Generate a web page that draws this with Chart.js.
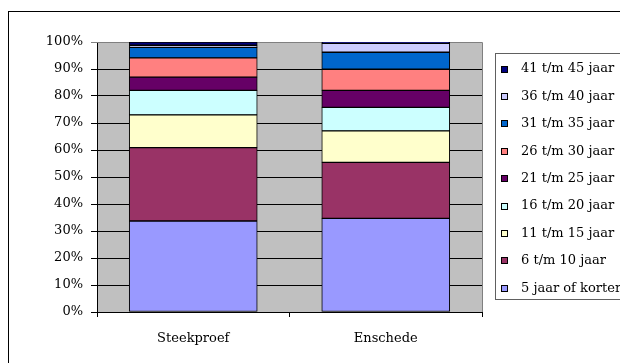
<!DOCTYPE html>
<html>
<head>
<meta charset="utf-8">
<script src="https://cdn.jsdelivr.net/npm/chart.js@4/dist/chart.umd.min.js"></script>
<style>
  html, body { margin: 0; padding: 0; background: #fff; overflow: hidden; }
  #wrap { position: relative; width: 620px; height: 363px; }
</style>
</head>
<body>
<div id="wrap"><canvas id="c" width="620" height="363"></canvas></div>
<script>
// Categories on the x axis
const categories = ['Steekproef', 'Enschede'];

// Duration classes, bottom of the stack first
const seriesLabels = [
  '5 jaar of korter', '6 t/m 10 jaar', '11 t/m 15 jaar', '16 t/m 20 jaar',
  '21 t/m 25 jaar', '26 t/m 30 jaar', '31 t/m 35 jaar', '36 t/m 40 jaar', '41 t/m 45 jaar'
];

// Share per class (percent), same order as seriesLabels
const steekproef = [33.7, 27.2, 12.1, 9.1, 4.9, 7.1, 3.9, 0.8, 1.2];
const enschede   = [34.7, 20.7, 11.7, 8.7, 6.3, 7.8, 6.3, 3.3, 0.5];

const seriesColors = [
  '#9999FF', '#993366', '#FFFFCC', '#CCFFFF', '#660066',
  '#FF8080', '#0066CC', '#CCCCFF', '#000080'
];

const yTicks = [0, 10, 20, 30, 40, 50, 60, 70, 80, 90, 100];

const FONT = { family: "'DejaVu Serif', serif", size: 13 };

const datasets = seriesLabels.map((label, i) => ({
  label,
  data: [steekproef[i], enschede[i]],
  backgroundColor: seriesColors[i],
  borderColor: '#000',
  borderWidth: 1,
  borderSkipped: false,
  barThickness: 128
}));

// Grey plot background plus the grey top/right frame
const plotFrame = {
  id: 'plotFrame',
  beforeDraw(chart) {
    const { ctx, chartArea: a } = chart;
    ctx.save();
    ctx.fillStyle = '#C0C0C0';
    ctx.fillRect(a.left, a.top, a.right - a.left, a.bottom - a.top);
    ctx.restore();
  },
  beforeDatasetsDraw(chart) {
    const { ctx, chartArea: a } = chart;
    ctx.save();
    ctx.strokeStyle = '#808080';
    ctx.lineWidth = 1;
    ctx.beginPath();
    ctx.moveTo(a.left, Math.round(a.top) + 0.5);
    ctx.lineTo(Math.round(a.right) + 0.5, Math.round(a.top) + 0.5);
    ctx.lineTo(Math.round(a.right) + 0.5, a.bottom);
    ctx.stroke();
    ctx.restore();
  },
  afterDraw(chart) {
    const ctx = chart.ctx;
    ctx.save();
    // outer chart frame
    ctx.strokeStyle = '#000';
    ctx.lineWidth = 1;
    ctx.strokeRect(8.5, 11.5, 800, 500);
    ctx.restore();
  }
};

// Boxed legend on the right, top item = top of the stack
const boxLegend = {
  id: 'boxLegend',
  afterDraw(chart) {
    const ctx = chart.ctx;
    const ds = chart.data.datasets.slice().reverse();
    ctx.save();
    ctx.fillStyle = '#fff';
    ctx.fillRect(496, 54, 300, 246);
    ctx.strokeStyle = '#606060';
    ctx.lineWidth = 1;
    ctx.strokeRect(495.5, 53.5, 300, 246);
    ctx.font = `${FONT.size}px ${FONT.family}`;
    ctx.textBaseline = 'middle';
    ctx.textAlign = 'left';
    ds.forEach((d, i) => {
      const cy = 69 + i * 27.4;
      ctx.fillStyle = d.backgroundColor;
      ctx.fillRect(501.5, Math.round(cy - 3.5) + 0.5, 6, 6);
      ctx.strokeStyle = '#000';
      ctx.strokeRect(501.5, Math.round(cy - 3.5) + 0.5, 6, 6);
      ctx.fillStyle = '#000';
      ctx.fillText(d.label, 521, cy);
    });
    ctx.restore();
  }
};

new Chart(document.getElementById('c'), {
  type: 'bar',
  data: { labels: categories, datasets },
  options: {
    responsive: false,
    animation: false,
    layout: { padding: { left: 10, right: 138, top: 42, bottom: 0 } },
    plugins: {
      legend: { display: false },
      tooltip: { enabled: false },
      title: { display: false }
    },
    scales: {
      x: {
        stacked: true,
        afterFit(s) { s.height = 51; },
        grid: {
          offset: true,
          drawOnChartArea: false,
          drawTicks: true,
          tickLength: 5,
          color: '#000'
        },
        border: { color: '#000', width: 1 },
        ticks: { color: '#000', font: FONT, padding: 14 }
      },
      y: {
        stacked: true,
        min: 0,
        max: 100,
        afterFit(s) { s.width = 87; },
        afterBuildTicks(s) { s.ticks = yTicks.map(v => ({ value: v })); },
        grid: {
          color: ctx => (ctx.tick && ctx.tick.value === 100) ? '#808080' : '#000',
          lineWidth: 1,
          tickLength: 6
        },
        border: { color: '#000', width: 1 },
        ticks: {
          color: '#000',
          font: FONT,
          padding: 8,
          callback: v => v + '%'
        }
      }
    }
  },
  plugins: [plotFrame, boxLegend]
});
</script>
</body>
</html>
